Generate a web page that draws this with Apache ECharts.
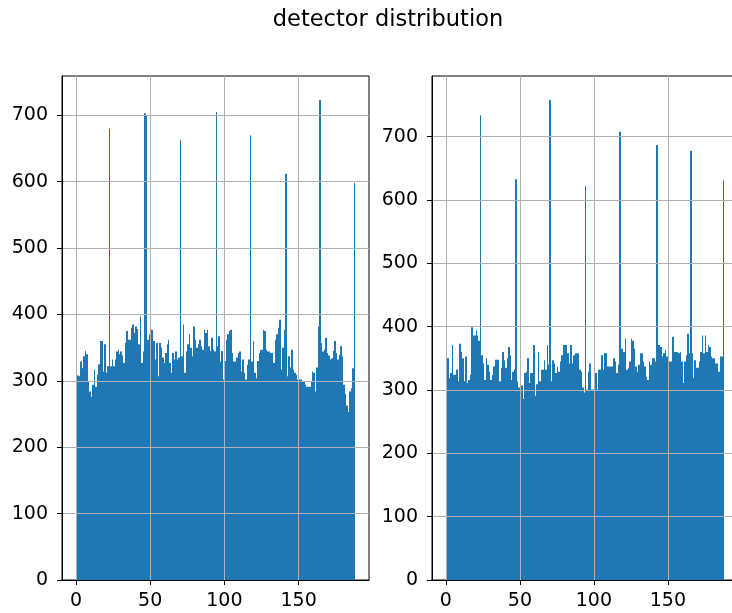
<!DOCTYPE html>
<html><head><meta charset="utf-8">
<script src="https://cdn.jsdelivr.net/npm/echarts@6/dist/echarts.min.js"></script>
<style>html,body{margin:0;padding:0;background:#fff}#c{width:732px;height:613px}</style>
</head><body><div id="c"></div><script>
// histogram counts per detector bin (bin i spans [i, i+1])
const leftCounts = [
308,308,307,329,319,337,345,340,299,284,276,294,317,291,309,325,360,360,314,355,
312,322,680,322,332,322,332,344,347,340,344,338,327,357,375,362,362,380,385,372,
382,378,355,397,327,344,703,700,362,370,377,377,360,332,357,307,357,350,335,327,
342,355,362,327,312,342,332,344,332,335,663,337,385,312,344,355,370,350,337,382,
362,350,355,362,352,347,377,372,377,352,345,365,347,344,705,352,367,329,345,302,
330,362,370,375,377,342,329,329,335,342,344,314,332,312,302,324,332,670,329,360,
312,304,330,342,347,347,377,375,347,344,344,342,342,327,362,370,380,392,317,350,
377,612,307,337,320,347,317,312,309,302,302,302,299,299,294,291,291,291,299,314,
312,284,320,382,723,357,344,347,365,342,338,332,334,345,360,342,332,339,352,337,
294,280,263,253,284,289,319,598
];
const rightCounts = [
386,350,319,327,371,324,324,332,314,373,360,350,314,353,311,316,324,399,386,386,
394,386,378,734,355,342,316,350,340,329,316,324,337,348,348,348,314,335,360,347,
335,350,368,355,316,329,332,633,314,304,304,307,286,327,329,350,311,327,327,371,
291,309,360,314,332,332,347,332,371,340,758,314,347,342,327,337,329,345,355,371,
371,371,358,342,371,342,355,358,358,358,332,329,304,296,622,301,329,342,301,301,
301,327,301,332,332,355,332,358,358,337,337,337,337,350,345,327,340,708,365,365,
360,381,332,335,345,381,378,365,337,329,340,358,358,345,337,321,316,345,340,350,
350,345,687,371,371,368,353,358,363,353,347,345,345,384,360,360,360,358,360,345,
311,345,355,389,358,678,358,319,347,335,335,345,360,386,358,386,360,371,368,353,
350,350,342,342,329,353,353,631
];
const binWidth = 1;
const xTicks = [0, 50, 100, 150];
const yTicks = [0, 100, 200, 300, 400, 500, 600, 700];
const titleText = 'detector distribution';

function maxOf(a) { return Math.max.apply(null, a); }
const xMin = -0.05 * leftCounts.length * binWidth;
const xMax = leftCounts.length * binWidth * 1.05;

const FONT = 'DejaVu Sans';
const labelSize = 19;

function xAxisCfg(gi) {
  return {
    type: 'value', gridIndex: gi, min: xMin, max: xMax, z: 10,
    axisLine: { show: true, onZero: false, lineStyle: { color: '#000', width: 1 } },
    axisTick: { show: true, inside: false, length: 5, customValues: xTicks, lineStyle: { color: '#000', width: 1 } },
    axisLabel: { show: true, customValues: xTicks, margin: 12, color: '#000', fontFamily: FONT, fontSize: labelSize },
    splitLine: { show: true, lineStyle: { color: '#b0b0b0', width: 1 } }
  };
}
function yAxisCfg(gi, counts) {
  return {
    type: 'value', gridIndex: gi, min: 0, max: maxOf(counts) * 1.05, z: 10,
    axisLine: { show: true, onZero: false, lineStyle: { color: '#000', width: 1 } },
    axisTick: { show: true, inside: false, length: 5, customValues: yTicks, lineStyle: { color: '#000', width: 1 } },
    axisLabel: { show: true, customValues: yTicks, margin: 14, color: '#000', fontFamily: FONT, fontSize: labelSize },
    splitLine: { show: true, lineStyle: { color: '#b0b0b0', width: 1 } }
  };
}
function histSeries(gi, counts) {
  return {
    type: 'custom', xAxisIndex: gi, yAxisIndex: gi, z: 2,
    data: counts.map((c, i) => [i * binWidth, c]),
    renderItem: function (params, api) {
      const x0 = api.value(0), y = api.value(1);
      const p0 = api.coord([x0, y]);
      const p1 = api.coord([x0 + binWidth, 0]);
      const l = Math.round(p0[0]), r = Math.max(Math.round(p1[0]), l + 1);
      return {
        type: 'rect',
        shape: { x: l, y: p0[1], width: r - l, height: p1[1] - p0[1] },
        style: { fill: '#1f77b4' }
      };
    }
  };
}

const chart = echarts.init(document.getElementById('c'), null, { renderer: 'canvas' });
chart.setOption({
  animation: false,
  backgroundColor: '#fff',
  graphic: [{
    type: 'text', x: 388, y: 20, z: 20,
    style: { text: titleText, textAlign: 'center', textVerticalAlign: 'middle',
             fontFamily: FONT, fontSize: 22.5, fill: '#000' }
  }],
  grid: [
    { left: 62, top: 76, width: 307, height: 504, outerBoundsMode: 'none', containLabel: false,
      show: true, borderColor: '#000', borderWidth: 1, backgroundColor: 'transparent' },
    { left: 432, top: 76, width: 306, height: 504, outerBoundsMode: 'none', containLabel: false,
      show: true, borderColor: '#000', borderWidth: 1, backgroundColor: 'transparent' }
  ],
  xAxis: [xAxisCfg(0), xAxisCfg(1)],
  yAxis: [yAxisCfg(0, leftCounts), yAxisCfg(1, rightCounts)],
  series: [histSeries(0, leftCounts), histSeries(1, rightCounts)]
});
</script></body></html>
